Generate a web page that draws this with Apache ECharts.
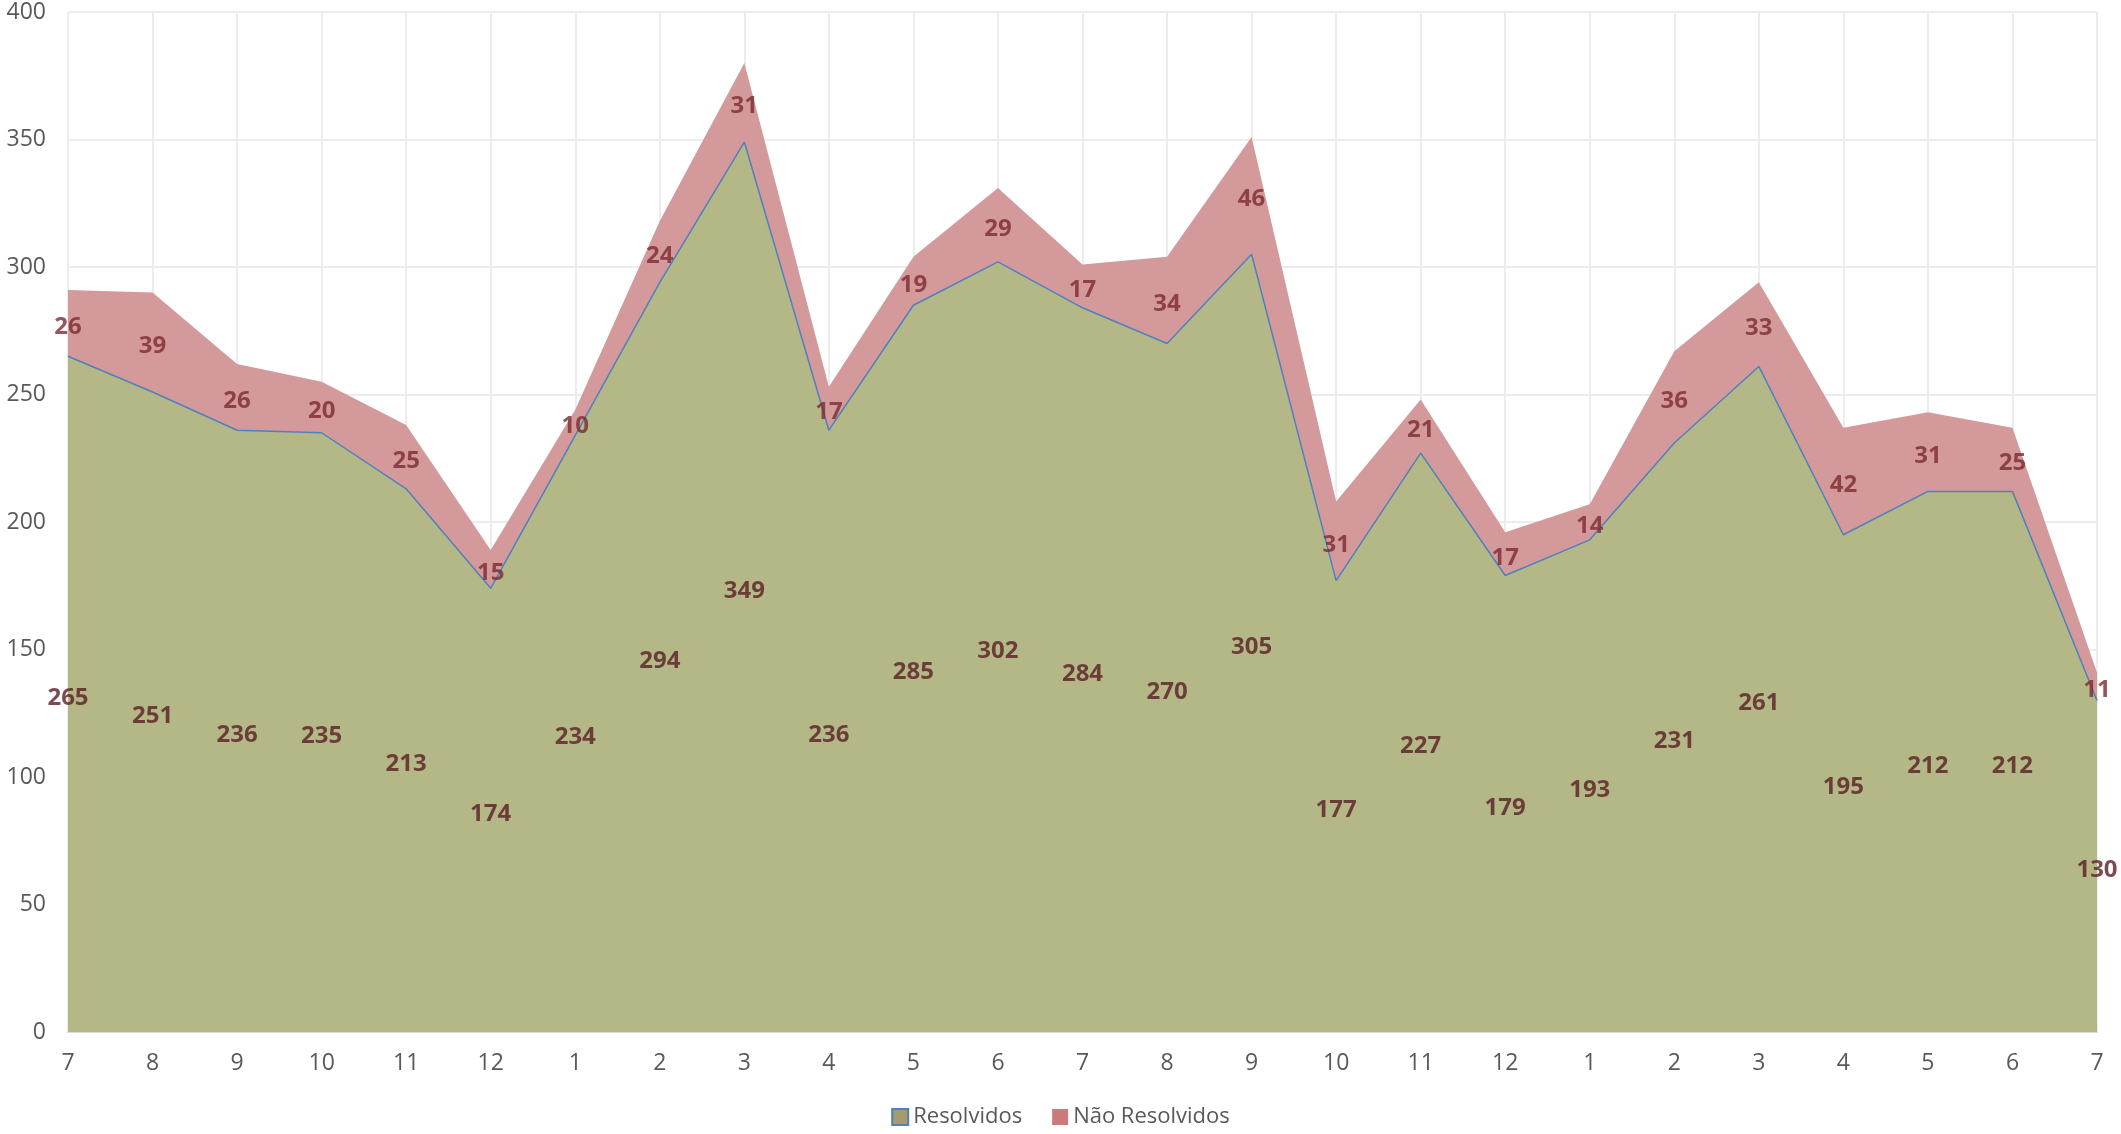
<!DOCTYPE html>
<html><head><meta charset="utf-8">
<script src="https://cdn.jsdelivr.net/npm/echarts@6/dist/echarts.min.js"></script>
<style>html,body{margin:0;padding:0;background:#fff}#c{width:2121px;height:1134px}</style>
</head><body><div id="c"></div>
<script>
const categories = ['7','8','9','10','11','12','1','2','3','4','5','6','7','8','9','10','11','12','1','2','3','4','5','6','7'];
const resolvidos = [265,251,236,235,213,174,234,294,349,236,285,302,284,270,305,177,227,179,193,231,261,195,212,212,130];
const naoResolvidos = [26,39,26,20,25,15,10,24,31,17,19,29,17,34,46,31,21,17,14,36,33,42,31,25,11];
const yTicks = {min:0, max:400, interval:50};

const resLabels = resolvidos.map((v,i)=>[i, v/2, v]);
const naoLabels = naoResolvidos.map((v,i)=>[i, resolvidos[i] + v/2, v]);

const chart = echarts.init(document.getElementById('c'));
const labelFont = {fontFamily:'Open Sans', fontWeight:'bold', fontSize:24};
chart.setOption({
  animation:false,
  textStyle:{fontFamily:'Open Sans'},
  grid:{left:68, right:24, top:12, bottom:102},
  legend:{
    bottom:1, left:'center', itemWidth:16, itemHeight:16, itemGap:30,
    icon:'rect',
    textStyle:{fontFamily:'Open Sans', fontSize:22, color:'#595959'},
    data:[
      {name:'Resolvidos', itemStyle:{color:'#a69b6d', borderColor:'#4f7fbd', borderWidth:2}},
      {name:'Não Resolvidos', itemStyle:{color:'#c97b7b'}}
    ]
  },
  xAxis:{
    type:'category', data:categories, boundaryGap:false,
    axisLine:{lineStyle:{color:'#d9d9d9', width:2}},
    axisTick:{show:false},
    axisLabel:{color:'#595959', fontSize:23, margin:20},
    splitLine:{show:true, lineStyle:{color:'#ececec', width:2}}
  },
  yAxis:{
    type:'value', min:yTicks.min, max:yTicks.max, interval:yTicks.interval,
    axisLine:{show:false}, axisTick:{show:false},
    axisLabel:{color:'#595959', fontSize:23, margin:22},
    splitLine:{lineStyle:{color:'#ececec', width:2}}
  },
  series:[
    {name:'Resolvidos', type:'line', stack:'total', data:resolvidos, symbol:'none',
     lineStyle:{color:'#4f81bd', width:1.5},
     itemStyle:{color:'#a69b6d'},
     areaStyle:{color:'#b3b886', opacity:1}, z:2},
    {name:'Não Resolvidos', type:'line', stack:'total', data:naoResolvidos, symbol:'none',
     lineStyle:{width:0, color:'#d09696'},
     itemStyle:{color:'#c97b7b'},
     areaStyle:{color:'#d49a9b', opacity:1}, z:2},
    {name:'resLbl', type:'scatter', data:resLabels, symbolSize:0, silent:true, z:5,
     label:{show:true, position:'inside', offset:[0,4], formatter:p=>p.value[2], color:'#5a1e24', ...labelFont}},
    {name:'naoLbl', type:'scatter', data:naoLabels, symbolSize:0, silent:true, z:5,
     label:{show:true, position:'inside', offset:[0,4], formatter:p=>p.value[2], color:'#7a2a30', ...labelFont}}
  ]
});
</script></body></html>
